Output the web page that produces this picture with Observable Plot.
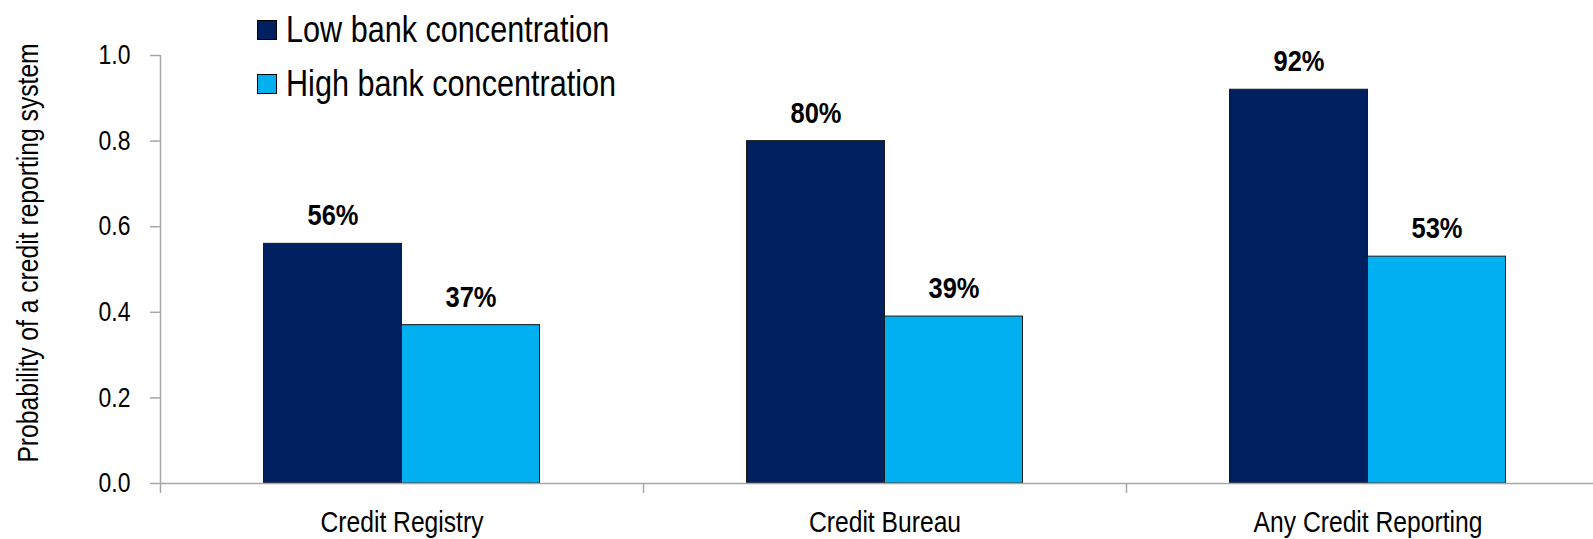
<!DOCTYPE html>
<html>
<head>
<meta charset="utf-8">
<script src="https://cdn.jsdelivr.net/npm/d3@7"></script>
<script src="https://cdn.jsdelivr.net/npm/@observablehq/plot@0.6"></script>
<style>
  html, body { margin: 0; padding: 0; background: #fff; }
  #wrap { position: relative; width: 1593px; height: 539px; overflow: hidden; }
  #wrap svg { display: block; }
  .leg-sq { position: absolute; width: 20px; height: 20px; box-sizing: border-box; border: 1px solid #000; }
  .leg-tx { position: absolute; white-space: nowrap; color: #000; transform-origin: 0 50%; }
</style>
</head>
<body>
<div id="wrap"></div>
<script>
// ---- data ----
const categories = ["Credit Registry", "Credit Bureau", "Any Credit Reporting"];
const seriesNames = ["Low bank concentration", "High bank concentration"];
const seriesColors = ["#002060", "#00B0F0"];
const lowValues = [0.56, 0.80, 0.92];
const highValues = [0.37, 0.39, 0.53];
const yTicks = [0, 0.2, 0.4, 0.6, 0.8, 1.0];
const yTitle = "Probability of a credit reporting system";

// ---- font detection ----
function hasFont(name) {
  const c = document.createElement("canvas").getContext("2d");
  const s = "abcdefghijklmnopqrstuvwxyz0123456789ABCDEFGH";
  c.font = "40px monospace";
  const a = c.measureText(s).width;
  c.font = `40px "${name}", monospace`;
  const b = c.measureText(s).width;
  return Math.abs(a - b) > 0.5;
}
const narrow = hasFont("Liberation Sans Narrow");
const F = narrow ? '"Liberation Sans Narrow", "Arial Narrow", sans-serif' : '"Liberation Sans", Arial, sans-serif';
const squeeze = narrow ? 1 : 0.85;   // horizontal condensing to mimic a narrow face

const rows = categories.flatMap((c, i) => [
  {category: c, series: seriesNames[0], value: lowValues[i]},
  {category: c, series: seriesNames[1], value: highValues[i]}
]);

const W = 1593, H = 539;
const xRange = [160, 1609];
const step = (xRange[1] - xRange[0]) / categories.length;
const outer = step * 0.2143;
const barW = (step - 2 * outer) / 2;
const gray = "#a6a6a6";
const pct = d3.format(".0%");

const marks = [];
seriesNames.forEach((s, j) => {
  const data = rows.filter(d => d.series === s);
  marks.push(Plot.barY(data, {
    x: "category", y: "value", fill: "series",
    stroke: "#1a1a1a", strokeWidth: 1,
    insetLeft: j === 0 ? outer : step / 2,
    insetRight: j === 0 ? step / 2 : outer
  }));
  marks.push(Plot.text(data, {
    x: "category", y: "value", text: d => pct(d.value),
    dx: (j === 0 ? -1 : 1) * (step / 2 - outer - barW / 2),
    dy: -28, fontWeight: "bold", fontSize: 30, fontFamily: F, fill: "#000"
  }));
});

const chart = Plot.plot({
  width: W, height: H,
  marginTop: 55, marginBottom: 56, marginLeft: 160, marginRight: 0,
  style: {fontFamily: F, background: "#fff", color: "#000"},
  x: {domain: categories, range: xRange, padding: 0, axis: null},
  y: {domain: [0, 1], axis: null},
  color: {domain: seriesNames, range: seriesColors},
  marks: [
    ...marks,
    Plot.ruleY([0], {stroke: gray, strokeWidth: 1.5}),
    Plot.ruleX([categories[0]], {x: d => d, dx: -step / 2, y1: 0, y2: 1, stroke: gray, strokeWidth: 1.5}),
    Plot.axisX({tickSize: 10, dx: -step / 2, stroke: gray, strokeWidth: 1.5, text: null, label: null}),
    Plot.axisX({tickSize: 0, tickPadding: 28, fontSize: 29, fontFamily: F, fill: "#000", label: null}),
    Plot.axisY({ticks: yTicks, tickFormat: d3.format(".1f"), tickSize: 10, tickPadding: 20,
      stroke: gray, strokeWidth: 1.5, fontSize: 27, fontFamily: F, fill: "#000", label: null}),
    Plot.text([yTitle], {frameAnchor: "left", text: d => d, rotate: -90, dx: -132, dy: -16.5,
      textAnchor: "middle", lineAnchor: "middle",
      fontSize: 29, fontFamily: F, fill: "#000"})
  ]
});

const wrap = document.getElementById("wrap");
wrap.appendChild(chart);

// condense SVG texts horizontally (keeps them as real text)
if (squeeze !== 1) {
  chart.querySelectorAll("text").forEach(t => {
    const n = t.getComputedTextLength();
    if (n > 0) {
      t.setAttribute("textLength", (n * squeeze).toFixed(2));
      t.setAttribute("lengthAdjust", "spacingAndGlyphs");
    }
  });
}

// ---- legend (HTML, over the top of the chart) ----
const legTops = [20, 74];
seriesNames.forEach((s, j) => {
  const sq = document.createElement("div");
  sq.className = "leg-sq";
  sq.style.left = "257px";
  sq.style.top = legTops[j] + "px";
  sq.style.background = seriesColors[j];
  wrap.appendChild(sq);
  const tx = document.createElement("div");
  tx.className = "leg-tx";
  tx.textContent = s;
  tx.style.left = "286px";
  tx.style.fontFamily = F;
  tx.style.fontSize = "36px";
  tx.style.lineHeight = "36px";
  tx.style.top = (legTops[j] - 8) + "px";
  tx.style.transform = `scaleX(${squeeze})`;
  wrap.appendChild(tx);
});
</script>
</body>
</html>
